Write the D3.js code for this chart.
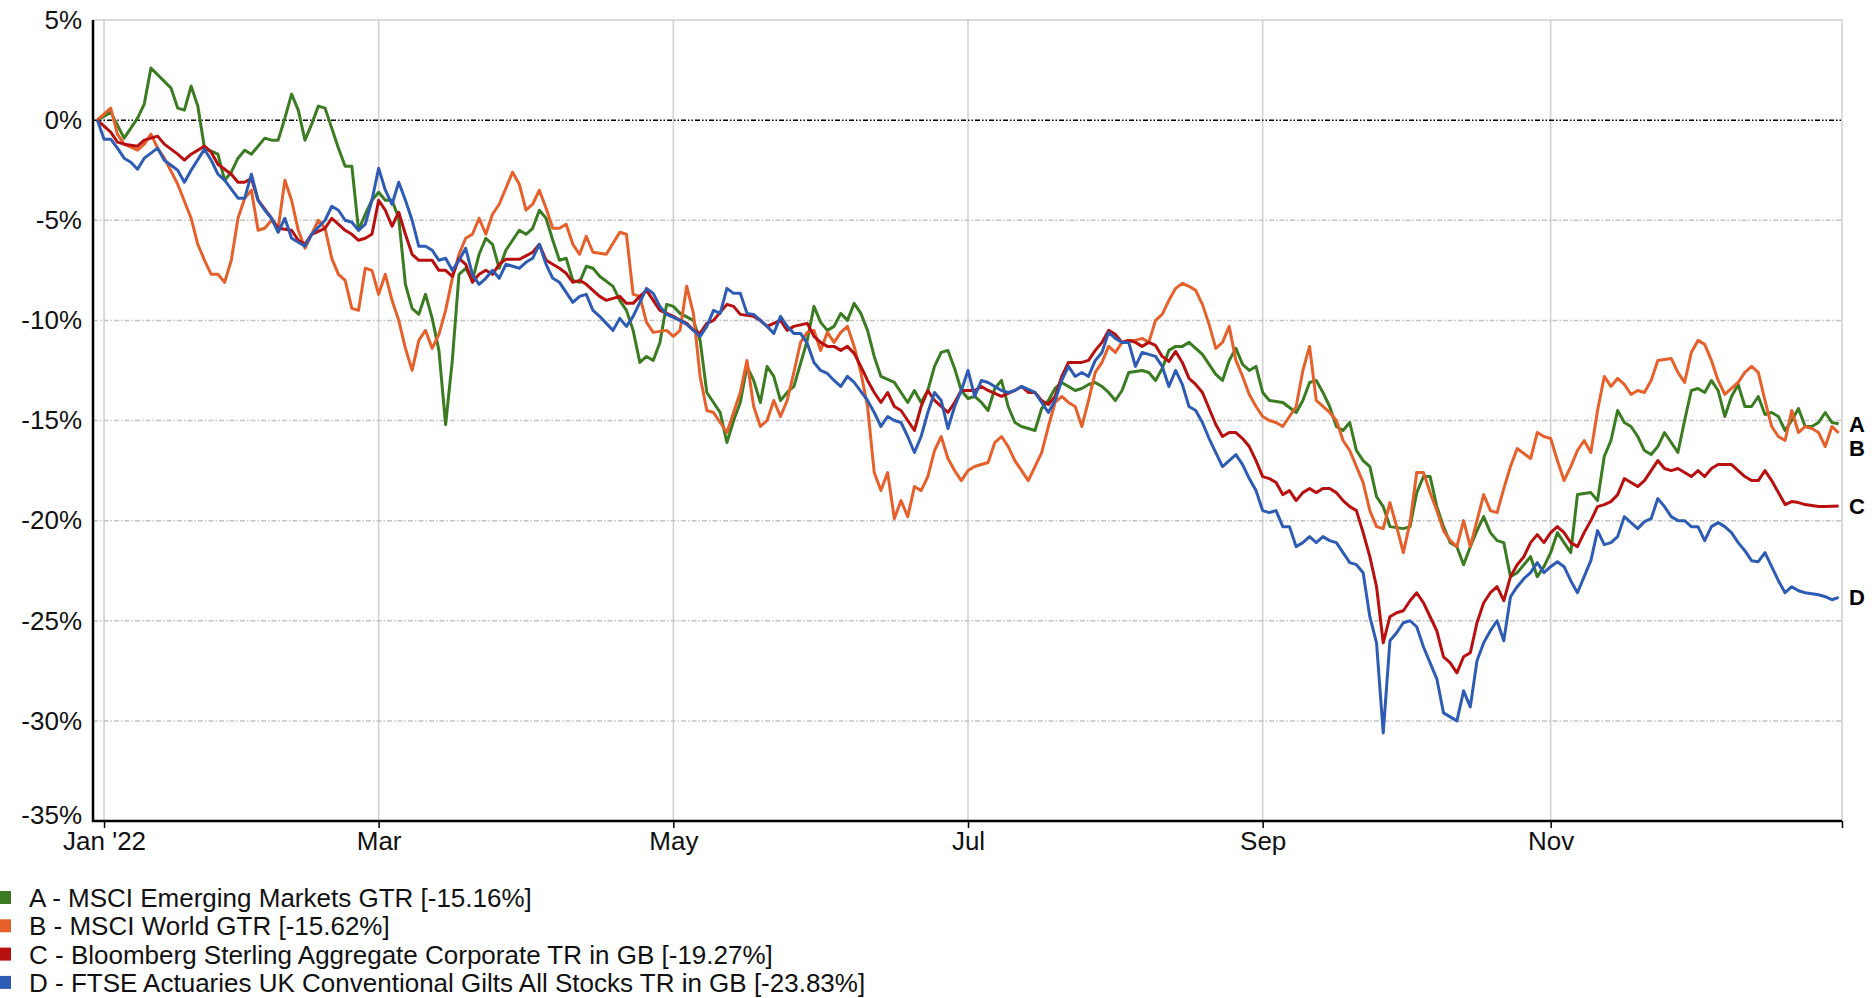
<!DOCTYPE html>
<html>
<head>
<meta charset="utf-8">
<script src="https://cdn.jsdelivr.net/npm/d3@7"></script>
<style>
  html, body { margin: 0; padding: 0; background: #fff; }
  svg { display: block; font-family: "Liberation Sans", Arial, sans-serif; }
</style>
</head>
<body>
<svg id="chart" width="1874" height="998"></svg>
<script>
// Cumulative total return in 2022, per trading session (session 0 = 3 Jan 2022).
// Each entry is [session, return %].
const emergingMarkets = [[-1,0],[1,0.4],[3,-0.9],[5,0.1],[6,0.8],[7,2.6],[10,1.6],[11,0.6],[12,0.5],[13,1.7],[14,0.7],[15,-1.4],[17,-1.7],[18,-3.0],[19,-2.6],[20,-1.9],[21,-1.5],[22,-1.7],[24,-0.9],[25,-1.0],[26,-1.0],[27,0.1],[28,1.3],[29,0.5],[30,-1.0],[31,-0.2],[32,0.7],[33,0.6],[34,-0.4],[35,-1.4],[36,-2.3],[37,-2.3],[38,-5.5],[39,-4.7],[40,-4.0],[41,-3.6],[42,-4.0],[43,-4.0],[44,-4.9],[45,-8.2],[46,-9.4],[47,-9.7],[48,-8.7],[49,-9.9],[50,-11.5],[51,-15.2],[52,-12.0],[53,-7.7],[54,-7.4],[55,-8.0],[56,-6.7],[57,-5.9],[58,-6.2],[59,-7.4],[60,-6.5],[61,-6.0],[62,-5.5],[63,-5.7],[64,-5.4],[65,-4.5],[66,-4.9],[67,-6.0],[68,-7.0],[69,-6.9],[70,-8.0],[71,-8.1],[72,-7.3],[73,-7.4],[74,-7.8],[76,-8.3],[77,-9.0],[78,-9.5],[79,-10.5],[80,-12.1],[81,-11.8],[82,-12.0],[83,-11.1],[84,-9.2],[85,-9.3],[86,-9.65],[88,-10.0],[89,-11.0],[90,-13.6],[91,-14.1],[92,-14.6],[93,-16.1],[94,-15.0],[95,-14.1],[96,-12.3],[97,-13.0],[98,-14.1],[99,-12.3],[100,-12.8],[101,-14.0],[102,-13.6],[103,-13.3],[105,-11.0],[106,-9.3],[107,-10.1],[108,-10.5],[109,-10.3],[110,-9.65],[111,-10.0],[112,-9.15],[113,-9.65],[114,-10.5],[115,-11.8],[116,-12.8],[118,-13.1],[119,-13.6],[120,-14.1],[121,-13.5],[122,-14.1],[123,-13.5],[124,-12.3],[125,-11.6],[126,-11.5],[127,-12.4],[128,-13.5],[129,-13.9],[130,-13.8],[131,-14.1],[132,-14.5],[133,-13.4],[134,-13.0],[135,-14.3],[136,-15.1],[137,-15.3],[139,-15.5],[140,-14.4],[141,-14.0],[142,-13.4],[143,-13.1],[144,-13.3],[145,-13.5],[146,-13.4],[147,-13.2],[148,-13.1],[149,-13.3],[150,-13.6],[151,-14.0],[152,-13.5],[153,-12.6],[155,-12.5],[156,-12.6],[157,-13.0],[158,-12.4],[159,-11.5],[160,-11.3],[161,-11.3],[162,-11.1],[163,-11.4],[164,-11.7],[165,-12.2],[166,-12.7],[167,-13.0],[168,-12.0],[169,-11.4],[170,-12.2],[171,-12.5],[172,-12.3],[173,-13.6],[174,-14.0],[176,-14.1],[178,-14.6],[179,-14.0],[180,-13.1],[181,-13.0],[182,-13.6],[183,-14.3],[184,-15.3],[185,-15.5],[186,-15.1],[187,-16.5],[188,-17.0],[189,-17.3],[190,-18.8],[191,-19.3],[192,-20.3],[194,-20.4],[195,-20.3],[196,-18.6],[197,-17.8],[198,-17.8],[199,-19.3],[200,-20.3],[201,-21.1],[202,-21.3],[203,-22.2],[204,-21.3],[205,-20.5],[206,-19.8],[207,-20.6],[208,-21.0],[209,-21.1],[210,-22.8],[211,-22.6],[212,-22.2],[213,-21.8],[214,-22.8],[215,-22.3],[216,-21.6],[217,-20.6],[219,-21.6],[220,-18.7],[222,-18.6],[223,-19.0],[224,-16.8],[225,-16.0],[226,-14.5],[227,-15.1],[228,-15.3],[229,-15.8],[230,-16.5],[231,-16.7],[232,-16.3],[233,-15.6],[234,-16.1],[235,-16.6],[236,-15.0],[237,-13.5],[238,-13.4],[239,-13.6],[240,-13.0],[241,-13.5],[242,-14.8],[243,-13.8],[244,-13.2],[245,-14.3],[246,-14.3],[247,-13.8],[248,-14.7],[249,-14.6],[250,-14.8],[251,-15.5],[252,-15.0],[253,-14.4],[254,-15.3],[255,-15.3],[256,-15.1],[257,-14.6],[258,-15.1],[259,-15.16]];

const worldEquities = [[-1,0],[1,0.6],[2,-0.7],[3,-1.2],[5,-1.5],[6,-1.2],[7,-0.7],[8,-1.4],[9,-1.9],[11,-3.2],[13,-4.9],[14,-6.2],[15,-7.0],[16,-7.7],[17,-7.7],[18,-8.1],[19,-7.0],[20,-4.9],[21,-3.9],[22,-3.5],[23,-5.5],[24,-5.4],[25,-5.0],[26,-5.4],[27,-3.0],[28,-4.0],[29,-5.5],[30,-6.4],[31,-5.7],[32,-5.0],[33,-5.4],[34,-6.9],[35,-7.7],[36,-8.0],[37,-9.4],[38,-9.5],[39,-7.4],[40,-7.5],[41,-8.7],[42,-7.7],[43,-9.0],[44,-10.0],[45,-11.4],[46,-12.5],[47,-11.0],[48,-10.5],[49,-11.4],[50,-10.7],[51,-9.5],[52,-7.9],[53,-6.7],[54,-5.9],[55,-5.7],[56,-4.9],[57,-5.7],[58,-4.7],[59,-4.2],[61,-2.6],[62,-3.2],[63,-4.5],[64,-4.2],[65,-3.5],[66,-4.4],[67,-5.4],[68,-5.4],[69,-5.2],[70,-6.2],[71,-6.7],[72,-5.8],[73,-6.6],[75,-6.7],[77,-5.6],[78,-5.7],[79,-8.7],[80,-8.8],[81,-10.1],[82,-10.6],[84,-10.5],[85,-10.8],[86,-10.5],[87,-8.3],[88,-9.65],[89,-12.8],[90,-14.5],[91,-14.6],[92,-15.1],[93,-15.6],[94,-14.6],[95,-13.6],[96,-12.0],[97,-14.3],[98,-15.3],[99,-15.0],[100,-14.0],[101,-14.8],[102,-14.0],[103,-12.6],[104,-11.1],[105,-10.6],[106,-10.5],[107,-11.5],[108,-10.6],[109,-11.1],[110,-10.6],[111,-10.3],[112,-11.3],[113,-12.6],[114,-14.3],[115,-17.6],[116,-18.5],[117,-17.6],[118,-19.9],[119,-19.0],[120,-19.8],[121,-18.3],[122,-18.5],[123,-17.8],[124,-16.5],[125,-15.8],[126,-16.9],[127,-17.5],[128,-18.0],[129,-17.5],[130,-17.3],[132,-17.1],[133,-16.1],[134,-15.8],[135,-16.3],[136,-17.0],[137,-17.5],[138,-18.0],[139,-17.3],[140,-16.6],[141,-15.3],[142,-14.1],[143,-13.8],[144,-14.1],[145,-14.3],[146,-15.3],[147,-14.0],[148,-12.6],[149,-12.1],[150,-11.3],[151,-11.6],[152,-11.1],[153,-11.0],[154,-11.0],[155,-10.9],[156,-11.1],[157,-10.0],[158,-9.7],[159,-9.0],[160,-8.4],[161,-8.15],[162,-8.3],[163,-8.5],[164,-9.2],[165,-10.2],[166,-11.4],[167,-11.1],[168,-10.3],[169,-12.0],[170,-12.8],[171,-13.7],[172,-14.3],[173,-14.8],[174,-15.0],[175,-15.1],[176,-15.3],[177,-14.8],[178,-14.3],[179,-12.5],[180,-11.3],[181,-14.0],[182,-14.3],[183,-14.6],[184,-15.0],[185,-16.0],[186,-16.5],[187,-17.3],[188,-18.1],[189,-19.5],[190,-20.3],[191,-20.4],[192,-19.1],[193,-20.3],[194,-21.6],[195,-20.1],[196,-17.6],[197,-17.6],[198,-18.6],[199,-19.5],[200,-20.5],[201,-21.0],[202,-21.3],[203,-20.0],[204,-21.3],[205,-20.0],[206,-18.7],[207,-19.5],[208,-19.6],[209,-18.4],[210,-17.3],[211,-16.4],[213,-16.9],[214,-15.6],[215,-15.8],[216,-15.9],[217,-17.0],[218,-18.0],[219,-17.3],[220,-16.5],[221,-16.0],[222,-16.6],[223,-14.5],[224,-12.8],[225,-13.3],[226,-12.9],[227,-13.2],[228,-13.7],[229,-13.5],[230,-13.6],[231,-13.0],[232,-12.0],[234,-11.9],[235,-12.6],[236,-13.1],[237,-11.6],[238,-11.0],[239,-11.2],[240,-12.0],[241,-13.0],[242,-13.7],[243,-13.4],[244,-13.1],[245,-12.6],[246,-12.3],[247,-12.6],[248,-14.0],[249,-15.3],[250,-15.8],[251,-16.0],[252,-14.5],[253,-15.6],[254,-15.3],[255,-15.4],[256,-15.6],[257,-16.3],[258,-15.3],[259,-15.62]];

const sterlingCorporate = [[-1,0],[1,-0.6],[2,-1.1],[3,-1.2],[5,-1.3],[6,-1.0],[8,-0.8],[9,-1.2],[11,-1.7],[12,-2.0],[13,-1.7],[15,-1.3],[16,-1.6],[17,-2.2],[19,-2.7],[20,-3.1],[21,-3.1],[22,-2.9],[23,-4.0],[25,-4.9],[26,-5.4],[28,-5.5],[29,-6.0],[30,-6.2],[31,-5.7],[33,-5.4],[34,-4.9],[36,-5.5],[37,-5.7],[38,-6.0],[39,-5.9],[40,-5.7],[41,-4.0],[42,-4.5],[43,-5.3],[44,-4.6],[45,-5.7],[46,-6.7],[47,-7.0],[49,-7.0],[50,-7.5],[51,-7.5],[52,-7.8],[53,-6.9],[54,-7.2],[55,-8.1],[56,-7.7],[57,-7.5],[58,-7.7],[59,-7.2],[60,-6.95],[62,-6.95],[64,-6.6],[65,-6.2],[66,-7.0],[67,-7.2],[68,-7.4],[69,-7.65],[70,-8.1],[71,-8.0],[72,-8.2],[73,-8.5],[74,-8.8],[75,-9.0],[77,-8.8],[78,-9.15],[79,-9.15],[80,-8.8],[81,-8.5],[82,-9.0],[83,-9.5],[85,-9.8],[86,-10.0],[87,-10.15],[88,-10.5],[89,-10.65],[90,-10.15],[91,-10.0],[93,-9.2],[94,-9.3],[95,-9.7],[97,-9.8],[98,-10.0],[99,-10.3],[100,-10.15],[101,-10.0],[102,-10.5],[103,-10.3],[105,-10.15],[106,-10.8],[107,-11.1],[108,-11.3],[109,-11.3],[110,-11.5],[111,-11.3],[112,-11.65],[113,-12.3],[114,-13.0],[115,-13.6],[116,-14.1],[117,-13.6],[118,-14.3],[119,-14.5],[120,-15.0],[121,-15.5],[122,-14.3],[123,-13.5],[124,-14.0],[125,-14.3],[126,-14.6],[127,-14.1],[128,-13.5],[130,-13.5],[131,-13.3],[132,-13.5],[134,-13.8],[136,-13.5],[137,-13.3],[138,-13.6],[139,-13.6],[140,-14.0],[141,-14.2],[142,-13.8],[143,-12.8],[144,-12.1],[146,-12.1],[147,-12.0],[148,-11.5],[149,-11.1],[150,-10.5],[151,-10.7],[152,-11.1],[153,-11.0],[154,-11.1],[155,-11.3],[156,-11.1],[157,-11.25],[158,-11.8],[159,-12.05],[160,-11.55],[161,-12.1],[162,-12.9],[163,-13.2],[164,-13.6],[165,-14.4],[166,-15.2],[167,-15.8],[168,-15.6],[169,-15.6],[170,-15.9],[171,-16.3],[172,-17.0],[173,-17.8],[174,-17.9],[175,-18.1],[176,-18.7],[177,-18.5],[178,-19.0],[179,-18.6],[180,-18.4],[181,-18.6],[182,-18.4],[183,-18.4],[184,-18.6],[185,-19.0],[186,-19.3],[187,-19.5],[188,-20.6],[189,-21.8],[190,-23.3],[191,-26.1],[192,-24.8],[193,-24.6],[194,-24.5],[195,-24.0],[196,-23.6],[197,-24.1],[198,-24.8],[199,-25.5],[200,-26.8],[201,-27.1],[202,-27.6],[203,-26.8],[204,-26.6],[205,-25.1],[206,-24.1],[207,-23.6],[208,-23.3],[209,-24.0],[210,-22.8],[211,-22.2],[212,-21.8],[213,-21.1],[214,-20.7],[215,-21.1],[216,-20.6],[217,-20.3],[218,-20.6],[219,-21.1],[220,-21.3],[221,-20.6],[222,-20.0],[223,-19.3],[224,-19.2],[225,-19.05],[226,-18.7],[227,-17.9],[228,-18.1],[229,-18.3],[230,-18.0],[231,-17.5],[232,-17.0],[233,-17.4],[234,-17.5],[235,-17.4],[236,-17.6],[237,-17.8],[238,-17.5],[239,-17.8],[240,-17.4],[241,-17.2],[243,-17.2],[244,-17.5],[245,-17.8],[246,-18.0],[247,-18.0],[248,-17.5],[249,-18.0],[250,-18.6],[251,-19.2],[252,-19.05],[253,-19.1],[254,-19.2],[256,-19.3],[257,-19.3],[259,-19.27]];

const ukGilts = [[-1,0],[0,-0.95],[1,-0.95],[2,-1.4],[3,-1.9],[4,-2.1],[5,-2.45],[6,-1.9],[8,-1.4],[9,-2.0],[11,-2.5],[12,-3.1],[13,-2.5],[15,-1.45],[16,-2.0],[17,-2.7],[18,-3.0],[20,-3.9],[21,-3.9],[22,-2.7],[23,-4.0],[24,-4.5],[25,-4.9],[26,-5.6],[27,-4.9],[28,-5.9],[30,-6.3],[31,-5.7],[33,-5.0],[34,-4.3],[35,-4.5],[36,-5.0],[37,-5.1],[38,-5.5],[39,-5.2],[40,-4.0],[41,-2.4],[42,-3.5],[43,-4.2],[44,-3.1],[45,-4.0],[46,-5.0],[47,-6.3],[48,-6.3],[49,-6.5],[50,-7.0],[51,-6.9],[52,-7.5],[53,-7.0],[54,-6.4],[55,-7.7],[56,-8.2],[57,-7.9],[58,-7.5],[59,-7.9],[60,-7.2],[61,-7.3],[62,-7.4],[63,-7.1],[64,-6.9],[65,-6.2],[66,-7.2],[67,-7.9],[68,-8.1],[69,-8.6],[70,-9.1],[71,-8.8],[72,-8.7],[73,-9.5],[74,-9.8],[76,-10.5],[77,-9.9],[78,-10.3],[79,-9.8],[80,-9.1],[81,-8.4],[82,-8.65],[83,-9.3],[84,-9.7],[85,-9.85],[86,-10.0],[87,-10.2],[89,-10.8],[90,-10.3],[91,-9.5],[92,-9.65],[93,-8.4],[94,-8.65],[95,-8.65],[96,-9.65],[97,-9.7],[98,-10.0],[99,-10.3],[100,-10.65],[101,-9.8],[102,-10.3],[103,-10.65],[104,-10.65],[105,-11.15],[106,-12.1],[107,-12.5],[108,-12.65],[109,-13.0],[110,-13.3],[111,-12.8],[112,-13.1],[114,-14.0],[115,-14.6],[116,-15.3],[117,-14.8],[118,-15.0],[119,-15.1],[120,-15.8],[121,-16.6],[122,-15.8],[123,-14.6],[124,-13.6],[125,-14.0],[126,-15.4],[127,-14.3],[128,-13.5],[129,-12.5],[130,-13.8],[131,-13.0],[132,-13.1],[133,-13.3],[134,-13.5],[135,-13.6],[136,-13.5],[137,-13.3],[139,-13.6],[140,-14.1],[141,-14.6],[142,-14.0],[143,-13.0],[144,-12.3],[145,-12.8],[146,-12.6],[147,-12.8],[148,-12.0],[149,-11.6],[150,-10.6],[151,-10.9],[152,-11.1],[153,-11.1],[154,-12.3],[155,-11.6],[156,-11.7],[157,-11.8],[158,-12.3],[159,-13.3],[160,-12.5],[161,-13.2],[162,-14.3],[163,-14.5],[164,-15.1],[165,-15.9],[166,-16.6],[167,-17.3],[168,-17.0],[169,-16.7],[170,-17.2],[171,-17.9],[172,-18.5],[173,-19.5],[174,-19.6],[175,-19.5],[176,-20.3],[177,-20.3],[178,-21.3],[179,-21.1],[180,-20.8],[181,-21.1],[182,-20.8],[183,-21.0],[184,-21.1],[185,-21.6],[186,-22.1],[187,-22.2],[188,-22.6],[189,-24.8],[190,-26.1],[191,-30.6],[192,-26.0],[193,-25.6],[194,-25.1],[195,-25.0],[196,-25.3],[197,-26.3],[198,-27.1],[199,-27.9],[200,-29.6],[201,-29.8],[202,-30.0],[203,-28.5],[204,-29.3],[205,-27.0],[206,-26.1],[207,-25.5],[208,-25.0],[209,-26.0],[210,-23.8],[211,-23.3],[212,-22.9],[213,-22.6],[214,-22.1],[215,-22.6],[216,-22.3],[217,-22.05],[218,-22.3],[219,-23.0],[220,-23.6],[221,-22.8],[222,-22.0],[223,-20.5],[224,-21.2],[225,-21.1],[226,-20.8],[227,-19.8],[228,-20.1],[229,-20.4],[230,-20.05],[231,-19.9],[232,-18.9],[233,-19.3],[234,-19.8],[235,-20.0],[236,-20.0],[237,-20.3],[238,-20.3],[239,-21.0],[240,-20.3],[241,-20.1],[242,-20.3],[243,-20.6],[244,-21.1],[245,-21.5],[246,-22.0],[247,-22.05],[248,-21.6],[249,-22.3],[250,-23.0],[251,-23.6],[252,-23.3],[253,-23.5],[254,-23.6],[256,-23.7],[257,-23.8],[258,-23.95],[259,-23.83]];

const seriesLetters = ["A", "B", "C", "D"];
const seriesNames = [
  "MSCI Emerging Markets GTR",
  "MSCI World GTR",
  "Bloomberg Sterling Aggregate Corporate TR in GB",
  "FTSE Actuaries UK Conventional Gilts All Stocks TR in GB"
];
const seriesColors = ["#3b7c22", "#e6602c", "#b80f0f", "#2e5cb4"];

// Month boundaries expressed as trading-session numbers.
const monthTicks = [0, 41, 85, 129, 173, 216];
const monthLabels = ["Jan '22", "Mar", "May", "Jul", "Sep", "Nov"];
const yTicks = [5, 0, -5, -10, -15, -20, -25, -30, -35];

const seriesData = [emergingMarkets, worldEquities, sterlingCorporate, ukGilts];

const svg = d3.select("#chart");
const plotLeft = 93, plotRight = 1842, plotTop = 20, plotBottom = 821;
const labelFont = "'Liberation Sans', Arial, sans-serif";

const x = d3.scaleLinear().domain([-1.65, 259.5]).range([plotLeft, plotRight]);
const y = d3.scaleLinear().domain([-35, 5]).range([plotBottom, plotTop]);

// Frame (top / right) in light grey
svg.append("path")
  .attr("d", `M${plotLeft},${plotTop}H${plotRight}V${plotBottom}`)
  .attr("fill", "none").attr("stroke", "#cfcfcf").attr("stroke-width", 1.5);

// Vertical month gridlines
svg.append("g").selectAll("line").data(monthTicks).join("line")
  .attr("x1", d => x(d)).attr("x2", d => x(d))
  .attr("y1", plotTop).attr("y2", plotBottom)
  .attr("stroke", "#d0d0d0").attr("stroke-width", 1.5);

// Horizontal dash-dot gridlines
svg.append("g").selectAll("line").data(yTicks.filter(v => v < 0 && v > -35)).join("line")
  .attr("x1", plotLeft).attr("x2", plotRight)
  .attr("y1", d => y(d)).attr("y2", d => y(d))
  .attr("stroke", "#c4c4c4").attr("stroke-width", 1.5)
  .attr("stroke-dasharray", "5,2,1.5,2");

// Zero reference line
svg.append("line")
  .attr("x1", plotLeft).attr("x2", plotRight)
  .attr("y1", y(0)).attr("y2", y(0))
  .attr("stroke", "#000").attr("stroke-width", 1.5)
  .attr("stroke-dasharray", "5,2,1.5,2,1.5,2");

// Y axis labels; the bottom one sits a little higher to clear the first month label
const yAxis = svg.append("g")
  .attr("transform", `translate(${plotLeft},0)`)
  .call(d3.axisLeft(y).tickValues(yTicks).tickSize(0).tickPadding(11).tickFormat(d => d + "%"));
yAxis.select(".domain").remove();
yAxis.selectAll("text").attr("font-size", 26).attr("fill", "#111").attr("font-family", labelFont)
  .attr("dy", d => d === -35 ? "0.1em" : "0.32em");

// X axis ticks and labels
const xAxis = svg.append("g")
  .attr("transform", `translate(0,${plotBottom})`)
  .call(d3.axisBottom(x).tickValues([...monthTicks, 259.5]).tickSize(7).tickPadding(4)
    .tickFormat((d, i) => monthLabels[i] || ""));
xAxis.select(".domain").remove();
xAxis.selectAll("line").attr("stroke", "#000").attr("stroke-width", 1.5);
xAxis.selectAll("text").attr("font-size", 26).attr("fill", "#111").attr("font-family", labelFont);

// Axis lines
svg.append("path")
  .attr("d", `M${plotLeft},${plotTop}V${plotBottom}H${plotRight}`)
  .attr("fill", "none").attr("stroke", "#000").attr("stroke-width", 2.5);

// Series lines
const line = d3.line().x(d => x(d[0])).y(d => y(d[1]));
svg.append("g").selectAll("path").data(seriesData).join("path")
  .attr("d", line)
  .attr("fill", "none")
  .attr("stroke", (d, i) => seriesColors[i])
  .attr("stroke-width", 3)
  .attr("stroke-linejoin", "round");

// End-of-line letters, nudged apart where they would overlap
const ends = seriesData.map((s, i) => ({ letter: seriesLetters[i], y: y(s[s.length - 1][1]) }))
  .sort((a, b) => a.y - b.y);
for (let i = 1; i < ends.length; i++) {
  if (ends[i].y - ends[i - 1].y < 24) ends[i].y = ends[i - 1].y + 24;
}
svg.append("g").selectAll("text").data(ends).join("text")
  .attr("x", plotRight + 7).attr("y", d => d.y + 8)
  .attr("font-size", 22).attr("font-weight", "bold").attr("fill", "#000")
  .text(d => d.letter);

// Legend
const legend = svg.append("g");
const legendTop = 898, legendStep = 28.3;
seriesData.forEach((s, i) => {
  const cy = legendTop + i * legendStep;
  legend.append("rect")
    .attr("x", 0).attr("y", cy - 7).attr("width", 11).attr("height", 13)
    .attr("fill", seriesColors[i]);
  legend.append("text")
    .attr("x", 29).attr("y", cy + 9)
    .attr("font-size", 26).attr("fill", "#111")
    .text(`${seriesLetters[i]} - ${seriesNames[i]} [${s[s.length - 1][1].toFixed(2)}%]`);
});
</script>
</body>
</html>
